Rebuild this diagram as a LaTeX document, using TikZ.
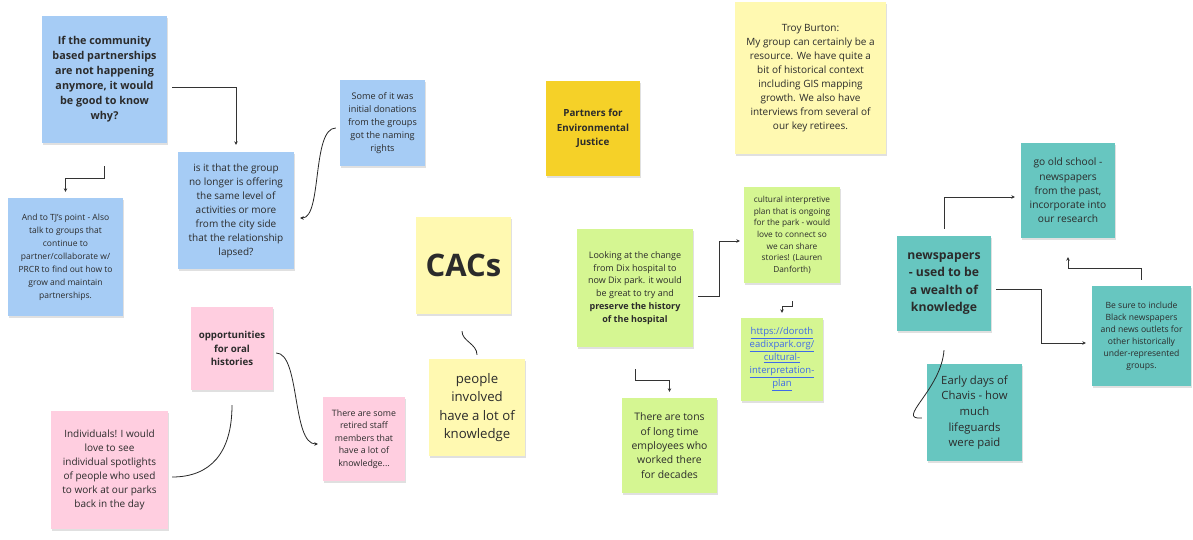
\documentclass[tikz,border=0pt]{standalone}
\usepackage{fontspec}
\setmainfont{Open Sans}
\usetikzlibrary{arrows.meta,shadows}
\definecolor{sblue}{HTML}{A6CCF5}
\definecolor{spink}{HTML}{FFCEE0}
\definecolor{syellow}{HTML}{FFF9B1}
\definecolor{sgold}{HTML}{F5D128}
\definecolor{sgreen}{HTML}{D5F692}
\definecolor{steal}{HTML}{67C6C0}
\definecolor{txt}{HTML}{2B2B2B}
\definecolor{linkc}{HTML}{3F6BE8}
\definecolor{lnc}{HTML}{333333}
\tikzset{
  sticky/.style={rectangle, inner sep=0pt, align=center, text=txt,
    drop shadow={shadow xshift=0.6pt, shadow yshift=-1.6pt, opacity=0.12, fill=black}},
  fs/.style n args={2}{font={\fontsize{#1}{#2}\selectfont}},
  fsb/.style n args={2}{font={\fontsize{#1}{#2}\selectfont\bfseries}},
  wh/.style n args={2}{minimum width=#1, minimum height=#2},
  conn/.style={draw=lnc, line width=0.9pt, -{Stealth[length=3.5pt,width=3.5pt]}},
  curv/.style={draw=black!85, line width=0.8pt},
}
\begin{document}
\begin{tikzpicture}[x=1pt,y=-1pt]
\useasboundingbox[fill=white] (0,0) rectangle (1193,539);

% blue notes
\node[sticky, fill=sblue, wh={125}{127}, fsb={10.8}{15}] (b1) at (104.5,79.5)
  {If the community\\based partnerships\\are not happening\\anymore, it would\\be good to know\\why?};
\node[sticky, fill=sblue, wh={116}{117}, fs={10}{14}] (b2) at (236,210.5)
  {is it that the group\\no longer is offering\\the same level of\\activities or more\\from the city side\\that the relationship\\lapsed?};
\node[sticky, fill=sblue, wh={85}{86}, fs={9.1}{13}] (b3) at (382.5,123)
  {Some of it was\\initial donations\\from the groups\\got the naming\\rights};
\node[sticky, fill=sblue, wh={115}{118}, fs={8.5}{13}] (b4) at (65.5,257)
  {And to TJ's point - Also\\talk to groups that\\continue to\\partner/collaborate w/\\PRCR to find out how to\\grow and maintain\\partnerships.};

% pink notes
\node[sticky, fill=spink, wh={82}{83}, fsb={9.7}{13.5}] (p1) at (232,348.5)
  {opportunities\\for oral\\histories};
\node[sticky, fill=spink, wh={117}{118}, fs={10}{14}] (p2) at (109.5,470)
  {Individuals! I would\\love to see\\individual spotlights\\of people who used\\to work at our parks\\back in the day};
\node[sticky, fill=spink, wh={82}{84}, fs={8.8}{12.6}] (p3) at (364,439)
  {There are some\\retired staff\\members that\\have a lot of\\knowledge...};

% yellow notes
\node[sticky, fill=syellow, wh={95}{97}, fsb={31}{36}] (y1) at (463.5,265.5) {CACs};
\node[sticky, fill=syellow, wh={96}{97}, fs={13.2}{18.3}] (y2) at (477,407.5)
  {people\\involved\\have a lot of\\knowledge};
\node[sticky, fill=sgold, wh={94}{95}, fsb={9.8}{14.5}] (gold) at (593,128.5)
  {Partners for\\Environmental\\Justice};
\node[sticky, fill=syellow, wh={151}{152}, fs={10}{14}] (troy) at (810.5,78)
  {Troy Burton:\\My group can certainly be a\\resource. We have quite a\\bit of historical context\\including GIS mapping\\growth. We also have\\interviews from several of\\our key retirees.};

% green notes
\node[sticky, fill=sgreen, wh={116}{118}, fs={9}{12.8}] (g1) at (635,288)
  {Looking at the change\\from Dix hospital to\\now Dix park. it would\\be great to try and\\\textbf{preserve the history}\\\textbf{of the hospital}};
\node[sticky, fill=sgreen, wh={96}{96}, fs={8.3}{11.6}] (g2) at (792,235)
  {cultural interpretive\\plan that is ongoing\\for the park - would\\love to connect so\\we can share\\stories! (Lauren\\Danforth)};
\node[sticky, fill=sgreen, wh={82}{83}, fs={9.5}{13}, text=linkc] (g3) at (782,359.5)
  {\underline{https://doroth}\\\underline{eadixpark.org/}\\\underline{cultural-}\\\underline{interpretation-}\\\underline{plan}};
\node[sticky, fill=sgreen, wh={95}{95}, fs={10.4}{14.4}] (g4) at (669.5,445.5)
  {There are tons\\of long time\\employees who\\worked there\\for decades};

% teal notes
\node[sticky, fill=steal, wh={94}{95}, fsb={12.2}{17.4}] (t1) at (944,283.5)
  {newspapers\\- used to be\\a wealth of\\knowledge};
\node[sticky, fill=steal, wh={94}{95}, fs={10.2}{14.3}] (t2) at (1068,190.5)
  {go old school -\\newspapers\\from the past,\\incorporate into\\our research};
\node[sticky, fill=steal, wh={99}{100}, fs={8.6}{12}] (t3) at (1141.5,336)
  {Be sure to include\\Black newspapers\\and news outlets for\\other historically\\under-represented\\groups.};
\node[sticky, fill=steal, wh={95}{97}, fs={11.3}{15.6}] (t4) at (974.5,412.5)
  {Early days of\\Chavis - how\\much\\lifeguards\\were paid};

% connectors
\draw[conn, shorten <=5pt, shorten >=7pt] ([yshift=-7.5pt]b1.east) -| (b2.north);
\draw[conn] ([yshift=-23pt]b1.south) |- ([yshift=19pt]b4.north) -- ([yshift=6pt]b4.north);
\draw[curv, -{Stealth[length=3.5pt,width=3.5pt]}] ([xshift=-4pt,yshift=-5pt]b3.west)
  .. controls +(-24,0) and +(22,0) .. ([xshift=6pt,yshift=-7.5pt]b2.east);
\draw[curv, -{Stealth[length=3.5pt,width=3.5pt]}] ([xshift=3pt,yshift=-4.5pt]p1.east)
  .. controls +(24,0) and +(-26,0) .. ([xshift=-5pt,yshift=-5pt]p3.west);
\draw[curv] ([yshift=-15pt]p1.south) .. controls +(0,48) and +(38,0) .. ([xshift=4pt,yshift=-7pt]p2.east);
\draw[curv] ([xshift=-1.5pt,yshift=-17pt]y1.south) .. controls +(0,10) and +(0,-11) .. ([yshift=4pt]y2.north);
\draw[conn] ([xshift=5pt,yshift=-8pt]g1.east) -- ++(21,0) |- ([xshift=-4pt,yshift=-6pt]g2.west);
\draw[conn] ([yshift=-18pt]g2.south) -- ++(0,5) -| ([yshift=5pt]g3.north);
\draw[conn] ([yshift=-22pt]g1.south) |- ([yshift=17pt]g4.north) -- ([yshift=6pt]g4.north);
\draw[conn] ([yshift=7pt]t1.north) |- ([xshift=-6pt,yshift=-6.5pt]t2.west);
\draw[conn] ([yshift=6pt]t3.north) |- ([yshift=-30pt]t2.south) -- ([yshift=-19pt]t2.south);
\draw[conn] ([xshift=5pt,yshift=-5.5pt]t1.east) -- ++(45,0) |- ([xshift=-6pt,yshift=-7pt]t3.west);
\draw[curv] ([yshift=-19pt]t1.south) .. controls +(-3,40) and +(-27,2) .. ([xshift=-5pt,yshift=-5.5pt]t4.west);
\end{tikzpicture}
\end{document}
